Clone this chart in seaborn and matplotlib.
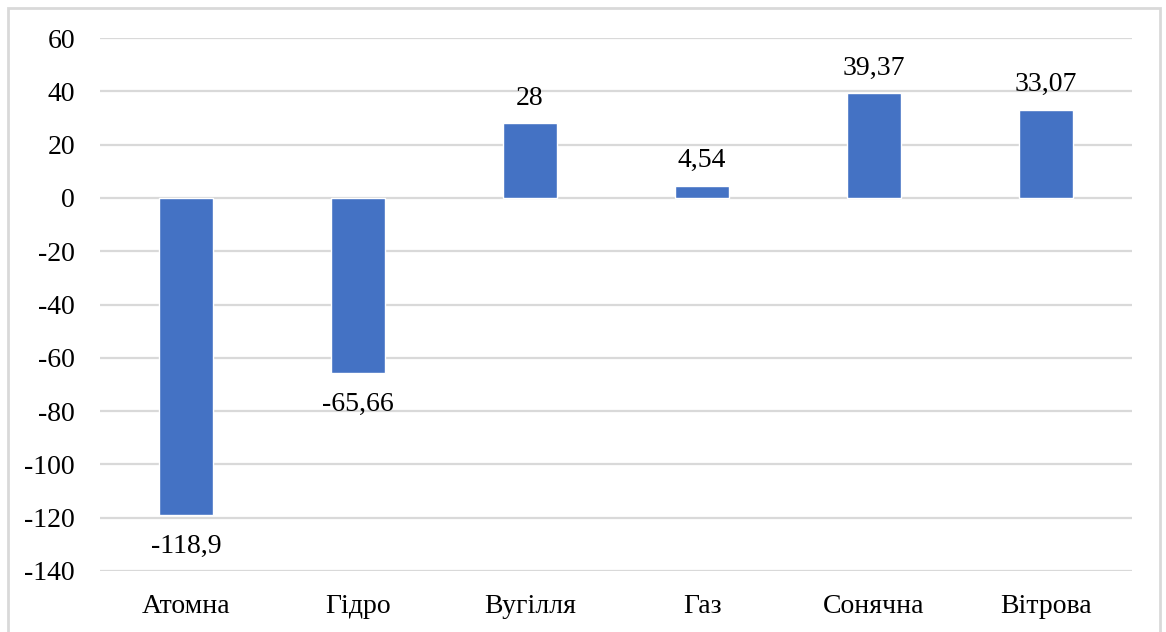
import matplotlib
matplotlib.use("Agg")
import matplotlib.pyplot as plt
from matplotlib.patches import Rectangle
import seaborn as sns
import pandas as pd

categories = ["Атомна", "Гідро", "Вугілля", "Газ", "Сонячна", "Вітрова"]
values = [-118.9, -65.66, 28, 4.54, 39.37, 33.07]
value_labels = ["-118,9", "-65,66", "28", "4,54", "39,37", "33,07"]
y_ticks = [60, 40, 20, 0, -20, -40, -60, -80, -100, -120, -140]

sns.set_theme(style="white")
plt.rcParams["font.family"] = ["Liberation Serif", "DejaVu Serif"]

df = pd.DataFrame({"cat": categories, "val": values})

fig = plt.figure(figsize=(11.66, 6.32), dpi=100)
fig.patch.set_facecolor("white")
ax = fig.add_axes([100 / 1166, 1 - 571 / 632, (1132 - 100) / 1166, (571 - 38) / 632])

grid_color = "#d9d9d9"
for t in y_ticks:
    ax.axhline(t, color=grid_color, lw=1.6, zorder=0)

sns.barplot(data=df, x="cat", y="val", color="#4472C4", width=0.31,
            saturation=1, ax=ax, zorder=2)

ax.set_ylim(-140, 60)
ax.set_xlim(-0.5, len(categories) - 0.5)
ax.set_yticks(y_ticks)
ax.set_yticklabels([str(t) for t in y_ticks])
ax.set_xticks(range(len(categories)))
ax.set_xticklabels(categories)
ax.set_xlabel("")
ax.set_ylabel("")
for s in ax.spines.values():
    s.set_visible(False)
ax.tick_params(axis="both", length=0, labelsize=20, colors="black")
ax.tick_params(axis="y", pad=18)
ax.tick_params(axis="x", pad=16.5)

# value labels: above positive bars, below negative ones
for i, (v, txt) in enumerate(zip(values, value_labels)):
    if v >= 0:
        ax.annotate(txt, (i, v), xytext=(0, 9), textcoords="offset points",
                    ha="center", va="bottom", fontsize=20, color="black")
    else:
        ax.annotate(txt, (i, v), xytext=(0, -14), textcoords="offset points",
                    ha="center", va="top", fontsize=20, color="black")

fig.add_artist(Rectangle((8 / 1166, -0.05), (1160 - 8) / 1166, 1 - 8 / 632 + 0.05,
                         transform=fig.transFigure, fill=False,
                         edgecolor="#d9d9d9", lw=2))

fig.savefig("out.png", dpi=100, facecolor="white")
